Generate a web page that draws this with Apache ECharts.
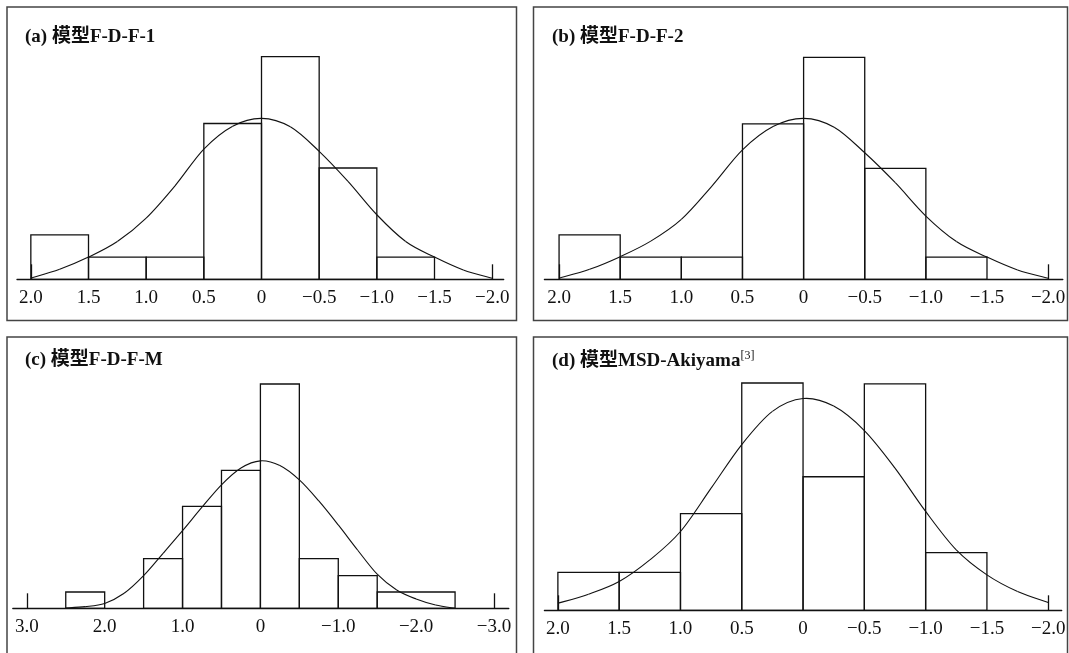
<!DOCTYPE html>
<html>
<head>
<meta charset="utf-8">
<title>模型残差分布</title>
<script src="https://cdn.jsdelivr.net/npm/echarts@6/dist/echarts.min.js"></script>
<style>
  html, body { margin: 0; padding: 0; background: #fff; }
  #main { width: 1069px; height: 653px; }
</style>
</head>
<body>
<div id="main"></div>
<script>
// tick labels
var ticksAB = [2.0, 1.5, 1.0, 0.5, 0, -0.5, -1.0, -1.5, -2.0];
var ticksC = [3.0, 2.0, 1.0, 0, -1.0, -2.0, -3.0];

// (a) 模型F-D-F-1
var binStartA = [2.0, 1.5, 1.0, 0.5, 0, -0.5, -1.0];
var binEndA = [1.5, 1.0, 0.5, 0, -0.5, -1.0, -1.5];
var countA = [2, 1, 1, 7, 10, 5, 1];
var curveXA = [2.0, 1.75, 1.5, 1.25, 1.0, 0.75, 0.5, 0.25, 0, -0.25, -0.5, -0.75, -1.0, -1.25, -1.5, -1.75, -2.0];
var curveYA = [0.05, 0.45, 1.0, 1.7, 2.75, 4.2, 5.85, 6.88, 7.23, 6.85, 5.75, 4.4, 2.9, 1.7, 1.0, 0.42, 0.05];

// (b) 模型F-D-F-2
var binStartB = [2.0, 1.5, 1.0, 0.5, 0, -0.5, -1.0];
var binEndB = [1.5, 1.0, 0.5, 0, -0.5, -1.0, -1.5];
var countB = [2, 1, 1, 7, 10, 5, 1];
var curveXB = [2.0, 1.75, 1.5, 1.25, 1.0, 0.75, 0.5, 0.25, 0, -0.25, -0.5, -0.75, -1.0, -1.25, -1.5, -1.75, -2.0];
var curveYB = [0.05, 0.45, 1.02, 1.72, 2.7, 4.2, 5.83, 6.88, 7.25, 6.85, 5.7, 4.35, 2.85, 1.7, 1.0, 0.42, 0.05];

// (c) 模型F-D-F-M
var binStartC = [2.5, 1.5, 1.0, 0.5, 0, -0.5, -1.0, -1.5];
var binEndC = [2.0, 1.0, 0.5, 0, -0.5, -1.0, -1.5, -2.5];
var countC = [1.0, 3.05, 6.25, 8.45, 13.75, 3.05, 2.0, 1.0];
var curveXC = [2.5, 2.25, 2.0, 1.75, 1.5, 1.25, 1.0, 0.75, 0.5, 0.25, 0, -0.25, -0.5, -0.75, -1.0, -1.25, -1.5, -1.75, -2.0, -2.25, -2.5];
var curveYC = [0.02, 0.1, 0.3, 0.92, 2.0, 3.37, 4.76, 6.2, 7.57, 8.6, 9.04, 8.75, 7.87, 6.58, 5.11, 3.56, 2.09, 1.12, 0.57, 0.2, 0.0];

// (d) 模型MSD-Akiyama
var binStartD = [2.0, 1.5, 1.0, 0.5, 0, -0.5, -1.0];
var binEndD = [1.5, 1.0, 0.5, 0, -0.5, -1.0, -1.5];
var countD = [2, 2, 5.1, 12, 7.05, 11.95, 3.05];
var curveXD = [2.0, 1.75, 1.5, 1.25, 1.0, 0.75, 0.5, 0.25, 0, -0.25, -0.5, -0.75, -1.0, -1.25, -1.5, -1.75, -2.0];
var curveYD = [0.37, 0.85, 1.52, 2.66, 4.16, 6.45, 8.75, 10.5, 11.18, 10.78, 9.49, 7.51, 5.22, 3.19, 1.87, 0.99, 0.41];

var serif = '"Liberation Serif", "Times New Roman", "Noto Sans CJK SC", serif';

function bins(s, e, h) {
  return s.map(function (v, i) { return [v, e[i], h[i]]; });
}
function pairs(xs, ys) {
  return xs.map(function (v, i) { return [v, ys[i]]; });
}
function fmt(v) {
  if (v === 0) return '0';
  return v < 0 ? '\u2212' + (-v).toFixed(1) : v.toFixed(1);
}

function renderBin(params, api) {
  var p0 = api.coord([api.value(0), 0]);
  var p1 = api.coord([api.value(1), api.value(2)]);
  return {
    type: 'rect',
    shape: {
      x: Math.min(p0[0], p1[0]),
      y: p1[1],
      width: Math.abs(p1[0] - p0[0]),
      height: p0[1] - p1[1]
    },
    style: { fill: 'none', stroke: '#111', lineWidth: 1.3 }
  };
}

// one catmull-rom piece between point i and i+1, through the axis scales
function splineRenderer(xs, ys) {
  return function (params, api) {
    var i = params.dataIndex;
    var n = xs.length;
    if (i >= n - 1) return null;
    var P = function (k) {
      k = Math.max(0, Math.min(n - 1, k));
      return api.coord([xs[k], ys[k]]);
    };
    var p0 = P(i - 1), p1 = P(i), p2 = P(i + 1), p3 = P(i + 2);
    var t = 1 / 6;
    return {
      type: 'bezierCurve',
      shape: {
        x1: p1[0], y1: p1[1], x2: p2[0], y2: p2[1],
        cpx1: p1[0] + (p2[0] - p0[0]) * t, cpy1: p1[1] + (p2[1] - p0[1]) * t,
        cpx2: p2[0] - (p3[0] - p1[0]) * t, cpy2: p2[1] - (p3[1] - p1[1]) * t
      },
      style: { fill: 'none', stroke: '#111', lineWidth: 1.1 }
    };
  };
}

function xAxisOf(idx, min, max, ticks, ends) {
  return {
    gridIndex: idx,
    type: 'value',
    inverse: true,
    min: min,
    max: max,
    splitLine: { show: false },
    axisLine: { show: true, onZero: false, lineStyle: { color: '#111', width: 1.3 } },
    axisTick: { show: true, inside: true, length: 15, customValues: ends, lineStyle: { color: '#111', width: 1.3 } },
    axisLabel: {
      customValues: ticks,
      formatter: fmt,
      margin: 9,
      color: '#111',
      fontFamily: serif,
      fontSize: 19
    }
  };
}
function yAxisOf(idx, max) {
  return { gridIndex: idx, type: 'value', min: 0, max: max, show: false };
}

function curve(idx, xs, ys) {
  return {
    type: 'custom', xAxisIndex: idx, yAxisIndex: idx,
    renderItem: splineRenderer(xs, ys),
    encode: { x: 0, y: 1 },
    data: pairs(xs, ys),
    clip: false
  };
}
function hist(idx, data) {
  return { type: 'custom', xAxisIndex: idx, yAxisIndex: idx, renderItem: renderBin, encode: { x: [0, 1], y: 2 }, data: data, clip: false };
}

function panelTitle(x, y, text) {
  return {
    type: 'text', x: x, y: y,
    style: {
      text: text,
      fontFamily: serif,
      fontSize: 19,
      fontWeight: 'bold',
      fill: '#111',
      verticalAlign: 'middle',
      rich: {
        sup: { fontFamily: serif, fontSize: 12, fill: '#111', padding: [0, 0, 10, 0] }
      }
    }
  };
}
function frame(x, y, w, h) {
  return { type: 'rect', shape: { x: x, y: y, width: w, height: h }, style: { fill: 'none', stroke: '#444', lineWidth: 1.5 } };
}

var chart = echarts.init(document.getElementById('main'));
var option = {
  backgroundColor: '#fff',
  animation: false,
  grid: [
    { left: 17, top: 56.7, width: 486.7, height: 222.6 },
    { left: 544.4, top: 57.3, width: 518.4, height: 222 },
    { left: 12.8, top: 384, width: 496, height: 224.3 },
    { left: 544.4, top: 383, width: 517.3, height: 227.3 }
  ],
  xAxis: [
    xAxisOf(0, -2.1, 2.12, ticksAB, [2, -2]),
    xAxisOf(1, -2.12, 2.12, ticksAB, [2, -2]),
    xAxisOf(2, -3.19, 3.18, ticksC, [3, -3]),
    xAxisOf(3, -2.11, 2.11, ticksAB, [2, -2])
  ],
  yAxis: [yAxisOf(0, 10), yAxisOf(1, 10), yAxisOf(2, 13.75), yAxisOf(3, 12)],
  series: [
    hist(0, bins(binStartA, binEndA, countA)),
    hist(1, bins(binStartB, binEndB, countB)),
    hist(2, bins(binStartC, binEndC, countC)),
    hist(3, bins(binStartD, binEndD, countD)),
    curve(0, curveXA, curveYA),
    curve(1, curveXB, curveYB),
    curve(2, curveXC, curveYC),
    curve(3, curveXD, curveYD)
  ],
  graphic: [
    frame(7, 7, 509.5, 313.5),
    frame(533.5, 7, 534, 313.5),
    frame(7, 337, 509.5, 330),
    frame(533.5, 337, 534, 330),
    panelTitle(25, 37.5, '(a) 模型F-D-F-1'),
    panelTitle(552, 37.5, '(b) 模型F-D-F-2'),
    panelTitle(25, 360.5, '(c) 模型F-D-F-M'),
    panelTitle(552, 361, '(d) 模型MSD-Akiyama{sup|[3]}')
  ]
};
chart.setOption(option);
</script>
</body>
</html>
